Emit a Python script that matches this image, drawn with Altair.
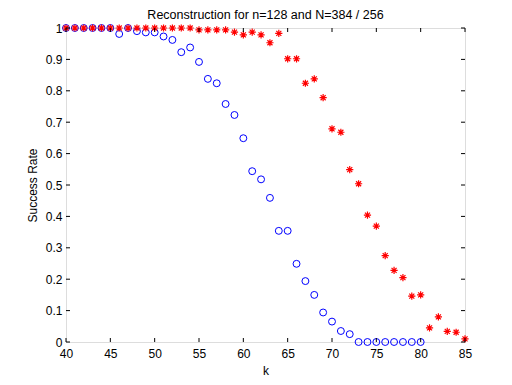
import altair as alt
import pandas as pd

blue_k = list(range(40, 81))
blue_rate = [1, 1, 1, 1, 1, 1, 0.981, 1, 0.99, 0.986,
             0.986, 0.973, 0.962, 0.923, 0.938, 0.892, 0.838, 0.824, 0.758, 0.723,
             0.649, 0.544, 0.518, 0.459, 0.354, 0.354, 0.249, 0.194, 0.150, 0.094,
             0.065, 0.035, 0.025, 0, 0, 0, 0, 0, 0, 0, 0]

red_k = list(range(40, 86))
red_rate = [1, 1, 1, 1, 1, 1, 1, 1, 1, 1,
            1, 1, 1, 1, 1, 0.994, 0.994, 0.994, 0.994, 0.987,
            0.978, 0.987, 0.978, 0.953, 0.983, 0.902, 0.902, 0.824, 0.838, 0.778,
            0.679, 0.668, 0.549, 0.504, 0.404, 0.369, 0.275, 0.228, 0.205, 0.146,
            0.150, 0.045, 0.080, 0.034, 0.031, 0.010]

x_ticks = [40, 45, 50, 55, 60, 65, 70, 75, 80, 85]
y_ticks = [0, 0.1, 0.2, 0.3, 0.4, 0.5, 0.6, 0.7, 0.8, 0.9, 1]

W, H = 399, 314
FONT = "Liberation Sans"

blue_df = pd.DataFrame({"k": blue_k, "rate": blue_rate})
red_df = pd.DataFrame({"k": red_k, "rate": red_rate})
xt_df = pd.DataFrame({"t": x_ticks})
yt_df = pd.DataFrame({"t": y_ticks})

xscale = alt.Scale(domain=[40, 85], nice=False, zero=False)
yscale = alt.Scale(domain=[0, 1], nice=False, zero=False)

common_axis = dict(ticks=False, domain=False, grid=False, labelFontSize=12,
                   titleFontSize=12, labelFont=FONT, titleFont=FONT,
                   labelColor="black", titleColor="black", titleFontWeight="normal",
                   labelFlush=False, labelOverlap=False, format="~g")

x_axis = alt.Axis(values=x_ticks, title="k", labelPadding=6, titlePadding=6, **common_axis)
y_axis = alt.Axis(values=y_ticks, title="Success Rate", labelPadding=4, titlePadding=6,
                  **common_axis)

blue = alt.Chart(blue_df).mark_point(shape="circle", filled=False, color="#0000ff",
                                     size=48, strokeWidth=1, opacity=1).encode(
    x=alt.X("k:Q", scale=xscale, axis=x_axis), y=alt.Y("rate:Q", scale=yscale, axis=y_axis))

star = "M-1,0L1,0M0,-1L0,1M-0.7,-0.7L0.7,0.7M-0.7,0.7L0.7,-0.7"
red = alt.Chart(red_df).mark_point(shape=star, filled=False, color="#ff0000",
                                   size=52, strokeWidth=1.2, opacity=1).encode(
    x=alt.X("k:Q", scale=xscale, axis=x_axis), y=alt.Y("rate:Q", scale=yscale, axis=y_axis))

tick_style = dict(color="black", strokeWidth=1)
xb = alt.Chart(xt_df).mark_rule(**tick_style).encode(
    x=alt.X("t:Q", scale=xscale, axis=x_axis), y=alt.value(H), y2=alt.value(H - 4))
xt = alt.Chart(xt_df).mark_rule(**tick_style).encode(
    x=alt.X("t:Q", scale=xscale, axis=x_axis), y=alt.value(0), y2=alt.value(4))
yl = alt.Chart(yt_df).mark_rule(**tick_style).encode(
    y=alt.Y("t:Q", scale=yscale, axis=y_axis), x=alt.value(0), x2=alt.value(4))
yr = alt.Chart(yt_df).mark_rule(**tick_style).encode(
    y=alt.Y("t:Q", scale=yscale, axis=y_axis), x=alt.value(W), x2=alt.value(W - 4))

chart = alt.layer(blue, red, xb, xt, yl, yr).properties(
    width=W, height=H,
    title=alt.TitleParams("Reconstruction for n=128 and N=384 / 256", fontSize=12.5,
                          font=FONT, fontWeight="normal", color="black", offset=0),
    autosize=alt.AutoSizeParams(type="none"),
    padding={"left": 58, "top": 20, "right": 39, "bottom": 35},
).configure_view(stroke="black", strokeWidth=1).configure(background="white")

chart.save("out.html", embed_options={"renderer": "svg", "actions": False})
